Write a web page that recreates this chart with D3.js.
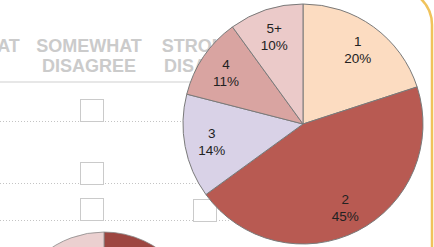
<!DOCTYPE html>
<html>
<head>
<meta charset="utf-8">
<script src="https://cdn.jsdelivr.net/npm/d3@7"></script>
<style>
  html, body { margin: 0; padding: 0; background: #fff; }
  svg { display: block; }
</style>
</head>
<body>
<div id="chart"></div>
<script>
// main pie: household size share
const categories = ["1", "2", "3", "4", "5+"];
const shares = [20, 45, 14, 11, 10];
const sliceColors = ["#fcdcc1", "#b85a52", "#d9d2e7", "#d9a4a1", "#ebcac9"];

// partial pie peeking in at the bottom left
const miniCategories = ["a", "b"];
const miniShares = [55, 45];
const miniColors = ["#9d4641", "#ebd0d0"];

// background survey form
const headerLines = [["SOMEWHAT", "AGREE"], ["SOMEWHAT", "DISAGREE"], ["STRONGLY", "DISAGREE"]];
const rowLines = [121, 183, 220];

const W = 434, H = 247;

const svg = d3.select("#chart").append("svg")
  .attr("width", W)
  .attr("height", H);

// ---- form in the background ----
const form = svg.append("g").attr("class", "form");

const headX = d3.scalePoint().domain(d3.range(headerLines.length)).range([-33, 211]);

headerLines.forEach(function (lines, i) {
  const t = form.append("text")
    .attr("x", headX(i))
    .attr("text-anchor", "middle")
    .style("font-family", "Liberation Sans, Arial, sans-serif")
    .style("font-weight", "bold")
    .style("font-size", "18px")
    .attr("fill", "#cbcbcb");
  lines.forEach(function (l, j) {
    t.append("tspan").attr("x", headX(i)).attr("y", 52 + j * 20).text(l);
  });
});

form.append("line")
  .attr("x1", 0).attr("x2", 200)
  .attr("y1", 82).attr("y2", 82)
  .attr("stroke", "#cfcfcf")
  .attr("stroke-width", 1.2);

form.selectAll(".row")
  .data(rowLines)
  .join("line")
  .attr("class", "row")
  .attr("x1", 0).attr("x2", 230)
  .attr("y1", d => d + 0.5).attr("y2", d => d + 0.5)
  .attr("stroke", "#c4c4c4")
  .attr("stroke-dasharray", "1,2");

const boxes = [[80, 99], [80, 162], [80, 198], [193, 199]];
form.selectAll(".box")
  .data(boxes)
  .join("rect")
  .attr("class", "box")
  .attr("x", d => d[0] + 0.5)
  .attr("y", d => d[1] + 0.5)
  .attr("width", 23)
  .attr("height", 22)
  .attr("fill", "#fff")
  .attr("stroke", "#cacaca");

// yellow rounded border at top right
svg.append("path")
  .attr("d", "M420,-2 A36,36 0 0 1 432,25 L432,247")
  .attr("fill", "none")
  .attr("stroke", "#f0c35c")
  .attr("stroke-width", 2.5);

// ---- mini pie ----
const miniPie = d3.pie().sort(null).value(d => d)(miniShares);
const miniArc = d3.arc().innerRadius(0).outerRadius(95);
svg.append("g")
  .attr("transform", "translate(104,327)")
  .selectAll("path")
  .data(miniPie)
  .join("path")
  .attr("d", miniArc)
  .attr("fill", (d, i) => miniColors[i])
  .attr("stroke", "#8a8a8a")
  .attr("stroke-width", 0.8);

// ---- main pie ----
const r = 120;
const color = d3.scaleOrdinal().domain(categories).range(sliceColors);
const pie = d3.pie().sort(null).value(d => d.v);
const arcs = pie(categories.map((c, i) => ({ c: c, v: shares[i] })));
const arc = d3.arc().innerRadius(0).outerRadius(r);
const labelArc = d3.arc().innerRadius(93).outerRadius(93);

const g = svg.append("g").attr("transform", "translate(303,124)");

g.selectAll("path")
  .data(arcs)
  .join("path")
  .attr("d", arc)
  .attr("fill", d => color(d.data.c))
  .attr("stroke", "#7a7a7a")
  .attr("stroke-width", 1);

const lbl = g.selectAll(".lbl")
  .data(arcs)
  .join("text")
  .attr("class", "lbl")
  .attr("text-anchor", "middle")
  .style("font-family", "Liberation Sans, Arial, sans-serif")
  .style("font-size", "13.5px")
  .attr("fill", "#222");

lbl.append("tspan")
  .attr("x", d => labelArc.centroid(d)[0])
  .attr("y", d => labelArc.centroid(d)[1] - 3)
  .text(d => d.data.c);
lbl.append("tspan")
  .attr("x", d => labelArc.centroid(d)[0])
  .attr("y", d => labelArc.centroid(d)[1] + 14)
  .text(d => d.data.v + "%");
</script>
</body>
</html>
